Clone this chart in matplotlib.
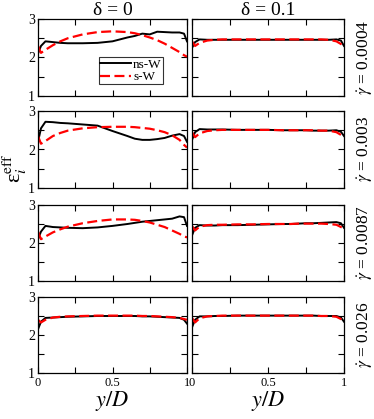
import matplotlib
matplotlib.use("Agg")
import matplotlib.pyplot as plt
from matplotlib.ticker import FixedLocator, FuncFormatter

plt.rcParams['font.family'] = ['Liberation Serif', 'DejaVu Serif']
plt.rcParams['mathtext.fontset'] = 'stix'

x = [0.0, 0.02, 0.05, 0.1, 0.15, 0.2, 0.3, 0.4, 0.5, 0.6, 0.65, 0.7, 0.75, 0.8, 0.85, 0.9, 0.95, 0.98, 1.0]

# delta = 0 column
ns_d0 = [
    [2.10, 2.30, 2.42, 2.40, 2.38, 2.37, 2.37, 2.38, 2.42, 2.52, 2.56, 2.62, 2.60, 2.67, 2.66, 2.65, 2.65, 2.62, 2.42],
    [2.20, 2.55, 2.72, 2.71, 2.69, 2.68, 2.65, 2.62, 2.48, 2.35, 2.28, 2.25, 2.25, 2.27, 2.30, 2.36, 2.40, 2.35, 2.20],
    [2.10, 2.30, 2.45, 2.42, 2.41, 2.40, 2.39, 2.41, 2.45, 2.50, 2.53, 2.56, 2.58, 2.60, 2.62, 2.64, 2.70, 2.68, 2.45],
    [2.15, 2.35, 2.45, 2.46, 2.47, 2.48, 2.49, 2.50, 2.50, 2.50, 2.50, 2.49, 2.49, 2.48, 2.47, 2.46, 2.45, 2.40, 2.30],
]
s_d0 = [
    [2.30, 2.12, 2.20, 2.32, 2.42, 2.50, 2.60, 2.66, 2.68, 2.66, 2.63, 2.58, 2.52, 2.45, 2.36, 2.25, 2.14, 2.06, 2.02],
    [2.35, 2.15, 2.22, 2.35, 2.43, 2.49, 2.55, 2.58, 2.59, 2.59, 2.58, 2.56, 2.54, 2.50, 2.45, 2.37, 2.25, 2.12, 2.05],
    [2.30, 2.10, 2.17, 2.28, 2.36, 2.43, 2.52, 2.58, 2.62, 2.62, 2.61, 2.58, 2.54, 2.48, 2.42, 2.33, 2.24, 2.17, 2.15],
    [2.40, 2.33, 2.40, 2.46, 2.48, 2.49, 2.50, 2.51, 2.51, 2.51, 2.51, 2.50, 2.50, 2.49, 2.48, 2.47, 2.45, 2.42, 2.40],
]
# delta = 0.1 column
ns_d1 = [
    [2.25, 2.40, 2.47, 2.46, 2.46, 2.46, 2.46, 2.46, 2.46, 2.46, 2.46, 2.46, 2.46, 2.46, 2.46, 2.46, 2.47, 2.44, 2.30],
    [2.25, 2.45, 2.53, 2.52, 2.52, 2.52, 2.51, 2.51, 2.51, 2.50, 2.50, 2.50, 2.50, 2.49, 2.49, 2.49, 2.50, 2.46, 2.35],
    [2.20, 2.40, 2.47, 2.46, 2.46, 2.47, 2.47, 2.48, 2.49, 2.50, 2.50, 2.51, 2.52, 2.52, 2.53, 2.54, 2.55, 2.52, 2.40],
    [2.20, 2.40, 2.49, 2.49, 2.50, 2.50, 2.51, 2.51, 2.51, 2.51, 2.51, 2.51, 2.51, 2.51, 2.50, 2.50, 2.50, 2.46, 2.35],
]
s_d1 = [
    [2.42, 2.30, 2.38, 2.44, 2.46, 2.47, 2.47, 2.47, 2.47, 2.47, 2.47, 2.47, 2.47, 2.47, 2.47, 2.46, 2.42, 2.35, 2.30],
    [2.45, 2.32, 2.42, 2.48, 2.50, 2.51, 2.51, 2.51, 2.51, 2.50, 2.50, 2.50, 2.50, 2.50, 2.49, 2.49, 2.45, 2.38, 2.33],
    [2.45, 2.33, 2.43, 2.47, 2.48, 2.48, 2.49, 2.49, 2.50, 2.50, 2.50, 2.51, 2.51, 2.51, 2.51, 2.50, 2.48, 2.42, 2.38],
    [2.45, 2.33, 2.44, 2.49, 2.50, 2.51, 2.51, 2.51, 2.51, 2.51, 2.51, 2.51, 2.51, 2.51, 2.50, 2.50, 2.48, 2.42, 2.38],
]

titles = ['δ = 0', 'δ = 0.1']
rates = ['0.0004', '0.003', '0.0087', '0.026']
xticks = [0, 0.25, 0.5, 0.75, 1.0]
xlabels = {0: '0', 0.5: '0.5', 1.0: '1'}
yticks = [1, 1.5, 2, 2.5, 3]

W, H = 374, 419
fig = plt.figure(figsize=(W / 100, H / 100), dpi=100)

cols = [(38, 187), (192, 344)]
rows = [(19, 96), (111, 188), (205, 281), (297, 373)]

for r, (t, b) in enumerate(rows):
    for c, (l, rr) in enumerate(cols):
        ax = fig.add_axes([l / W, 1 - b / H, (rr - l) / W, (b - t) / H])
        ns = ns_d0[r] if c == 0 else ns_d1[r]
        s = s_d0[r] if c == 0 else s_d1[r]
        ax.plot(x, ns, color='black', lw=1.4, label='ns-W')
        ax.plot(x, s, color='red', lw=1.6, ls=(0, (4.5, 2)), label='s-W')
        ax.set_xlim(0, 1)
        ax.set_ylim(1, 3)
        ax.xaxis.set_major_locator(FixedLocator(xticks))
        ax.yaxis.set_major_locator(FixedLocator(yticks))
        ax.tick_params(direction='in', length=4, width=0.8, top=True, right=True,
                       labelsize=10, pad=2, colors='black')
        ax.tick_params(axis='x', labelsize=9, pad=3)
        if r == 3:
            ax.xaxis.set_major_formatter(FuncFormatter(lambda v, p: xlabels.get(round(v, 2), '')))
        else:
            ax.set_xticklabels([])
        if c == 0:
            ax.yaxis.set_major_formatter(FuncFormatter(lambda v, p: '%d' % v if v == int(v) else ''))
        else:
            ax.set_yticklabels([])
        for sp in ax.spines.values():
            sp.set_linewidth(0.9)
        if r == 0:
            ax.set_title(titles[c], fontsize=14, pad=1)
        if c == 1:
            ax.yaxis.set_label_position('right')
            ax.set_ylabel(r'$\dot{\gamma}$ = ' + rates[r], fontsize=12.5, rotation=90, labelpad=8)
        if r == 3:
            ax.set_xlabel(r'$y/D$', fontsize=16, labelpad=0)
        if r == 0 and c == 0:
            leg = ax.legend(loc='lower right', bbox_to_anchor=(0.84, 0.15), fontsize=9.5,
                            frameon=True, fancybox=False, edgecolor='black',
                            handlelength=2.3, handletextpad=0.2, borderpad=0.1,
                            labelspacing=0.0, borderaxespad=0)
            leg.get_frame().set_linewidth(0.8)

fig.text(15 / W, 1 - 168 / H, r'ε$_i^{\mathrm{eff}}$', fontsize=16,
         rotation=90, ha='center', va='center')

fig.savefig('out.png', dpi=100)
